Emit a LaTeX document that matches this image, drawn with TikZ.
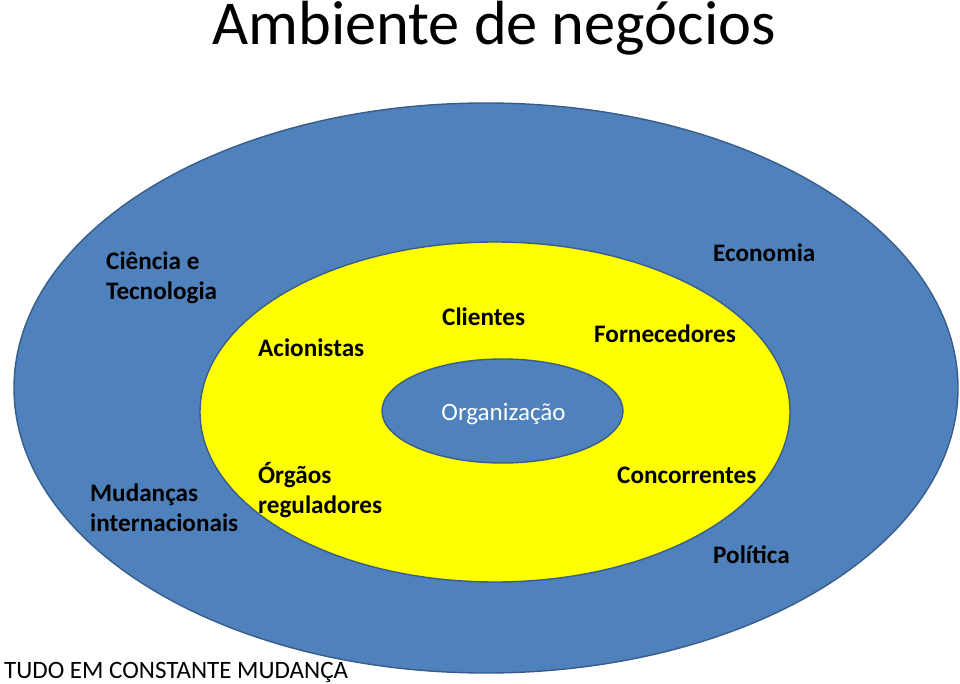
\documentclass[tikz,border=0pt]{standalone}
\usepackage{fontspec}
\setmainfont{Carlito}
\usetikzlibrary{shapes.geometric}
\definecolor{ringblue}{HTML}{4F81BD}
\definecolor{ringedge}{HTML}{385D8A}
\definecolor{ringyellow}{HTML}{FFFF00}
\begin{document}
\begin{tikzpicture}[x=1pt,y=-1pt,
  ring/.style={ellipse, draw=ringedge, line width=1.4pt, inner sep=0pt},
  lbl/.style={anchor=base west, inner sep=0pt, font=\fontsize{25.2}{30}\selectfont\bfseries, text=black}]
\useasboundingbox (0,0) rectangle (960,684);
\node (title) [anchor=base, inner sep=0pt, font=\fontsize{62.4}{74}\selectfont] at (494,45) {Ambiente de negócios};
\node (outer) [ring, fill=ringblue, minimum width=944pt, minimum height=570pt] at (486,388) {};
\node (middle) [ring, fill=ringyellow, minimum width=590pt, minimum height=340pt] at (495,412) {};
\node (org) [ring, fill=ringblue, minimum width=241pt, minimum height=104pt] at (502.5,411) {};
\node (orgtxt) [anchor=base, inner sep=0pt, text=white, font=\fontsize{25}{30}\selectfont] at (503.5,420) {Organização};
\node (cien1) [lbl] at (106,270) {Ciência e};
\node (cien2) [lbl] at (106,300) {Tecnologia};
\node (acion) [lbl] at (258,356) {Acionistas};
\node (clien) [lbl] at (442,325) {Clientes};
\node (forne) [lbl] at (594,342) {Fornecedores};
\node (econ) [lbl] at (713,262) {Economia};
\node (mud1) [lbl] at (90,501) {Mudanças};
\node (mud2) [lbl] at (90,531) {internacionais};
\node (org1) [lbl] at (258,483) {Órgãos};
\node (org2) [lbl] at (258,513) {reguladores};
\node (conc) [lbl] at (617,483) {Concorrentes};
\node (polit) [lbl] at (713,563) {Política};
\node (tudo) [anchor=base west, inner sep=0pt, font=\fontsize{25}{30}\selectfont] at (4,678) {TUDO EM CONSTANTE MUDANÇA};
\end{tikzpicture}
\end{document}
